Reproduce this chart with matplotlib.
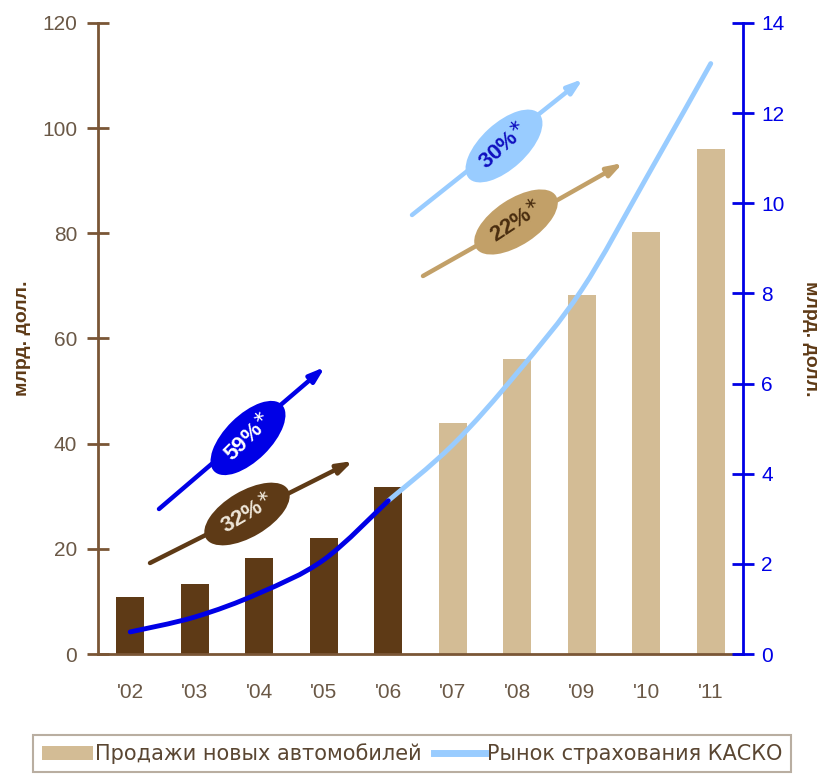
import math
import matplotlib
matplotlib.use('Agg')
import matplotlib.pyplot as plt
from matplotlib.lines import Line2D
from matplotlib.patches import Patch, PathPatch
from matplotlib.path import Path

# ---- data ----
years = ["'02", "'03", "'04", "'05", "'06", "'07", "'08", "'09", "'10", "'11"]
car_sales = [10.8, 13.3, 18.2, 22.0, 31.8, 43.9, 56.1, 68.2, 80.2, 96.0]   # bn USD, left axis
kasko = [0.49, 0.82, 1.35, 2.09, 3.4, 4.64, 6.24, 8.08, 10.56, 13.1]        # bn USD, right axis
n_actual = 5  # '02-'06 actual, '07-'11 forecast
left_ticks = [0, 20, 40, 60, 80, 100, 120]
right_ticks = [0, 2, 4, 6, 8, 10, 12, 14]
growth_labels = ["59%", "32%", "30%", "22%"]
legend_labels = ["Продажи новых автомобилей", "Рынок страхования КАСКО"]
ylabel = "млрд. долл."

# ---- colours ----
DARK_BROWN = '#5E3A16'
TAN = '#D3BC95'
TAN_DARK = '#C2A068'
AXIS_BROWN = '#7A5636'
LABEL_GRAY = '#6A5846'
BLUE = '#0000E6'
LIGHT_BLUE = '#99CCFF'

plt.rcParams['font.family'] = ['Liberation Sans', 'DejaVu Sans']

W, H = 823, 774
fig = plt.figure(figsize=(W / 100, H / 100), dpi=100)
ax = fig.add_axes([98 / W, (H - 654) / H, 645 / W, 631 / H])

x = list(range(len(years)))
colors = [DARK_BROWN if i < n_actual else TAN for i in x]
ax.bar(x, car_sales, width=0.43, color=colors, zorder=2)
ax.set_xlim(-0.5, len(years) - 0.5)
ax.set_ylim(0, 120)
ax.set_yticks(left_ticks)
ax.set_xticks(x)
ax.set_xticklabels(years)

for s in ['top', 'right']:
    ax.spines[s].set_visible(False)
ax.spines['left'].set_color(AXIS_BROWN)
ax.spines['left'].set_linewidth(2)
ax.spines['bottom'].set_color(AXIS_BROWN)
ax.spines['bottom'].set_linewidth(2)
ax.tick_params(axis='y', direction='inout', length=16, width=2, color=AXIS_BROWN,
               labelcolor=LABEL_GRAY, labelsize=15, pad=7)
ax.tick_params(axis='x', length=0, labelcolor=LABEL_GRAY, labelsize=15, pad=21)
ax.set_ylabel(ylabel, fontsize=14, fontweight='bold', color=DARK_BROWN, labelpad=8)

ax2 = ax.twinx()
ax2.set_ylim(0, 14)
ax2.set_yticks(right_ticks)
for s in ['top', 'left', 'bottom']:
    ax2.spines[s].set_visible(False)
ax2.spines['right'].set_color(BLUE)
ax2.spines['right'].set_linewidth(2)
ax2.tick_params(axis='y', direction='inout', length=16, width=2, color=BLUE,
                labelcolor=BLUE, labelsize=15, pad=5)
ax2.set_ylabel(ylabel, fontsize=14, fontweight='bold', color=DARK_BROWN,
               rotation=270, labelpad=25)


def smooth_path(xs, ys):
    """Catmull-Rom through the data points, expressed as cubic Bezier segments."""
    verts = [(xs[0], ys[0])]
    codes = [Path.MOVETO]
    n = len(xs)
    for i in range(n - 1):
        x0, y0 = (xs[i - 1], ys[i - 1]) if i > 0 else (xs[i], ys[i])
        x1, y1 = xs[i], ys[i]
        x2, y2 = xs[i + 1], ys[i + 1]
        x3, y3 = (xs[i + 2], ys[i + 2]) if i + 2 < n else (xs[i + 1], ys[i + 1])
        c1 = (x1 + (x2 - x0) / 6, y1 + (y2 - y0) / 6)
        c2 = (x2 - (x3 - x1) / 6, y2 - (y3 - y1) / 6)
        verts += [c1, c2, (x2, y2)]
        codes += [Path.CURVE4] * 3
    return Path(verts, codes)


ax2.add_patch(PathPatch(smooth_path(x[n_actual - 1:], kasko[n_actual - 1:]),
                        fc='none', ec=LIGHT_BLUE, lw=3.5, capstyle='round', zorder=3))
ax2.add_patch(PathPatch(smooth_path(x[:n_actual], kasko[:n_actual]),
                        fc='none', ec=BLUE, lw=3.5, capstyle='round', zorder=4))


# ---- growth arrows (decoration, placed in axes fraction via pixel positions) ----
def pf(px, py):
    return ((px - 98) / 645, (654 - py) / 631)


arrows = [
    # start, end, ellipse centre, colour, ellipse fill, text colour, label
    ((159, 509), (325, 367), (248, 438), BLUE, BLUE, 'white', growth_labels[0]),
    ((150, 563), (353, 461), (247, 514), DARK_BROWN, DARK_BROWN, '#EEE6D8', growth_labels[1]),
    ((412, 215), (583, 79), (504, 146), LIGHT_BLUE, LIGHT_BLUE, '#1010C0', growth_labels[2]),
    ((423, 276), (623, 163), (516, 222), TAN_DARK, TAN_DARK, '#4A2E10', growth_labels[3]),
]
for (s, e, c, col, fc, tc, lab) in arrows:
    ax2.annotate('', xy=pf(*e), xytext=pf(*s), xycoords='axes fraction',
                 textcoords='axes fraction',
                 arrowprops=dict(arrowstyle='-|>,head_length=0.9,head_width=0.3',
                                 color=col, lw=3.2, shrinkA=0, shrinkB=0), zorder=5)
    ang = math.degrees(math.atan2(s[1] - e[1], e[0] - s[0]))
    cx, cy = pf(*c)
    ax2.text(cx, cy, lab + r'$^{\ast}$', transform=ax2.transAxes, rotation=ang + 4,
             rotation_mode='anchor', ha='center', va='center', fontsize=16,
             fontweight='bold', color=tc, zorder=6,
             family=['Liberation Sans Narrow', 'Liberation Sans', 'DejaVu Sans'],
             bbox=dict(boxstyle='ellipse,pad=0.22', fc=fc, ec='none'))

# ---- legend ----
handles = [Patch(facecolor=TAN, edgecolor='none'),
           Line2D([], [], color=LIGHT_BLUE, lw=5)]
leg = fig.legend(handles, legend_labels, loc='upper center',
                 bbox_to_anchor=(412 / W, 1 - 735 / H), ncol=2, frameon=True,
                 fancybox=False, edgecolor='#A89A8A',
                 handlelength=2.45, handletextpad=0.1, columnspacing=0.6,
                 borderaxespad=0, borderpad=0.4,
                 prop={'family': 'DejaVu Sans', 'size': 15})
leg.get_frame().set_linewidth(1.5)
for t in leg.get_texts():
    t.set_color('#5A4632')

fig.savefig('out.png', dpi=100)
